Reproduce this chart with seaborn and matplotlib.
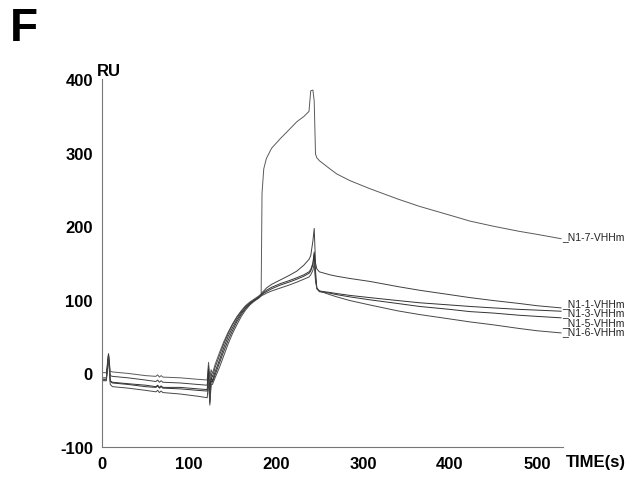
"""
Sensorgram (SPR) de los nanocuerpos N1-x-VHHm, panel F.
"""

import pandas as pd
import matplotlib
matplotlib.use("Agg")
import matplotlib.pyplot as plt
import seaborn as sns
from matplotlib.ticker import MultipleLocator

# Datos (tiempo en s, respuesta en RU)
time_s = [0, 5, 7.5, 9.5, 12, 30, 50, 62, 64, 66, 68, 70, 90, 110, 121, 122.5, 124,
          125.5, 127, 130, 135, 140, 145, 150, 155, 160, 165, 170, 175, 180, 183, 184,
          186, 189, 195, 205, 215, 224, 232, 238, 240, 242.5, 244, 245.5, 247, 250, 262,
          270, 285, 308, 340, 365, 400, 423, 450, 480, 500, 528]

n1_7 = [1, 1, 27, 3, 2, 0, -3, -4, -2, -5, -3, -5, -6, -8, -9, 15, -5,
        5, 0, 12, 28, 43, 56, 67, 77, 85, 92, 97, 101, 105, 108, 245,
        278, 292, 306, 319, 331, 342, 349, 356, 384, 385, 370, 298, 293, 289, 278,
        271, 262, 251, 237, 227, 215, 207, 200, 193, 189, 183]

n1_1 = [-6, -6, 25, -3, -4, -6, -9, -11, -9, -12, -10, -12, -13, -15, -16, 10, -25,
        0, -5, 8, 24, 40, 54, 66, 76, 84, 91, 96, 100, 104, 107, 110,
        112, 116, 121, 127, 133, 139, 147, 155, 160, 180, 197, 150, 142, 138, 134,
        132, 129, 125, 118, 113, 107, 103, 99, 95, 92, 89]

n1_3 = [-8, -8, 26, -10, -12, -14, -16, -18, -16, -19, -17, -19, -19, -21, -22, 5, -35,
        -5, -10, 2, 18, 35, 50, 62, 73, 82, 89, 95, 99, 103, 106, 108,
        110, 113, 117, 122, 126, 130, 134, 138, 141, 150, 165, 140, 116, 112, 110,
        108.5, 106, 103, 99, 96, 93, 91, 89, 87, 86, 84.5]

n1_5 = [-9, -9, 24, -11, -13, -15, -18, -19, -17, -20, -18, -20, -21, -23, -24, 0, -40,
        -10, -12, -2, 14, 30, 45, 58, 70, 80, 88, 94, 99, 103, 106, 107,
        109, 111, 115, 120, 124, 128, 132, 136, 139, 148, 162, 130, 115, 111, 109,
        107, 104, 100, 95, 91, 87, 84, 82, 79, 77.5, 75.5]

n1_6 = [-10, -10, 22, -15, -18, -20, -23, -25, -23, -26, -24, -26, -28, -31, -33, -10, -43,
        -15, -15, -6, 8, 24, 40, 54, 66, 77, 86, 93, 98, 102, 105, 106,
        107, 109, 112, 116, 120, 124, 128, 131, 134, 140, 150, 125, 116, 112, 107,
        104, 99, 93, 85, 80, 74, 70, 66, 61, 58, 55]

curve_names = ["N1-7-VHHm", "N1-1-VHHm", "N1-3-VHHm", "N1-5-VHHm", "N1-6-VHHm"]
curve_values = [n1_7, n1_1, n1_3, n1_5, n1_6]

# Posicion vertical de las etiquetas a la derecha (RU)
label_y = {"N1-7-VHHm": 187, "N1-1-VHHm": 95, "N1-3-VHHm": 83,
           "N1-5-VHHm": 70, "N1-6-VHHm": 57}


def build_frame():
    rows = []
    for name, vals in zip(curve_names, curve_values):
        for t, v in zip(time_s, vals):
            rows.append({"time": t, "ru": v, "curve": name})
    return pd.DataFrame(rows)


def main():
    sns.set_style("white")
    plt.rcParams["font.family"] = ["Liberation Sans", "DejaVu Sans"]
    plt.rcParams["axes.unicode_minus"] = False
    plt.rcParams["text.color"] = "black"
    plt.rcParams["xtick.labelcolor"] = "black"
    plt.rcParams["ytick.labelcolor"] = "black"

    data = build_frame()

    fig = plt.figure(figsize=(6.39, 4.81), dpi=100)
    ax = fig.add_axes([0.1596, 0.0686, 0.7214, 0.765])

    palette = {"N1-7-VHHm": "#5a5a5a", "N1-1-VHHm": "#404040", "N1-3-VHHm": "#333333",
               "N1-5-VHHm": "#333333", "N1-6-VHHm": "#484848"}
    sns.lineplot(data=data, x="time", y="ru", hue="curve", palette=palette,
                 estimator=None, sort=False, legend=False, linewidth=0.7, ax=ax)

    ax.set_xlim(0, 530)
    ax.set_ylim(-100, 400)
    ax.xaxis.set_major_locator(MultipleLocator(100))
    ax.xaxis.set_minor_locator(MultipleLocator(50))
    ax.yaxis.set_major_locator(MultipleLocator(100))
    ax.yaxis.set_minor_locator(MultipleLocator(50))
    ax.set_xticks([0, 100, 200, 300, 400, 500])
    ax.set_xlabel("")
    ax.set_ylabel("")

    for side in ["top", "right"]:
        ax.spines[side].set_visible(False)
    for side in ["left", "bottom"]:
        ax.spines[side].set_color("#777777")
        ax.spines[side].set_linewidth(0.8)

    ax.tick_params(axis="both", which="major", direction="inout", length=5,
                   width=0.7, color="#777777", labelsize=12, pad=4,
                   labelcolor="black")
    ax.tick_params(axis="both", which="minor", direction="inout", length=3,
                   width=0.6, color="#888888")
    for lbl in ax.get_xticklabels() + ax.get_yticklabels():
        lbl.set_fontweight("bold")

    # Etiquetas de los ejes como en el original
    ax.text(-6, 402, "RU", fontsize=12, fontweight="bold", ha="left", va="bottom")
    ax.text(533, -110, "TIME(s)", fontsize=12, fontweight="bold", ha="left", va="top")
    fig.text(0.015, 0.985, "F", fontsize=33, fontweight="bold", ha="left", va="top")

    # Etiquetas de cada curva al final
    for name, vals in zip(curve_names, curve_values):
        ax.text(time_s[-1] + 1, label_y[name], "_" + name, fontsize=7.5,
                ha="left", va="center", color="#222222", clip_on=False)

    fig.savefig("out.png", dpi=100)
    plt.close(fig)


if __name__ == "__main__":
    main()
